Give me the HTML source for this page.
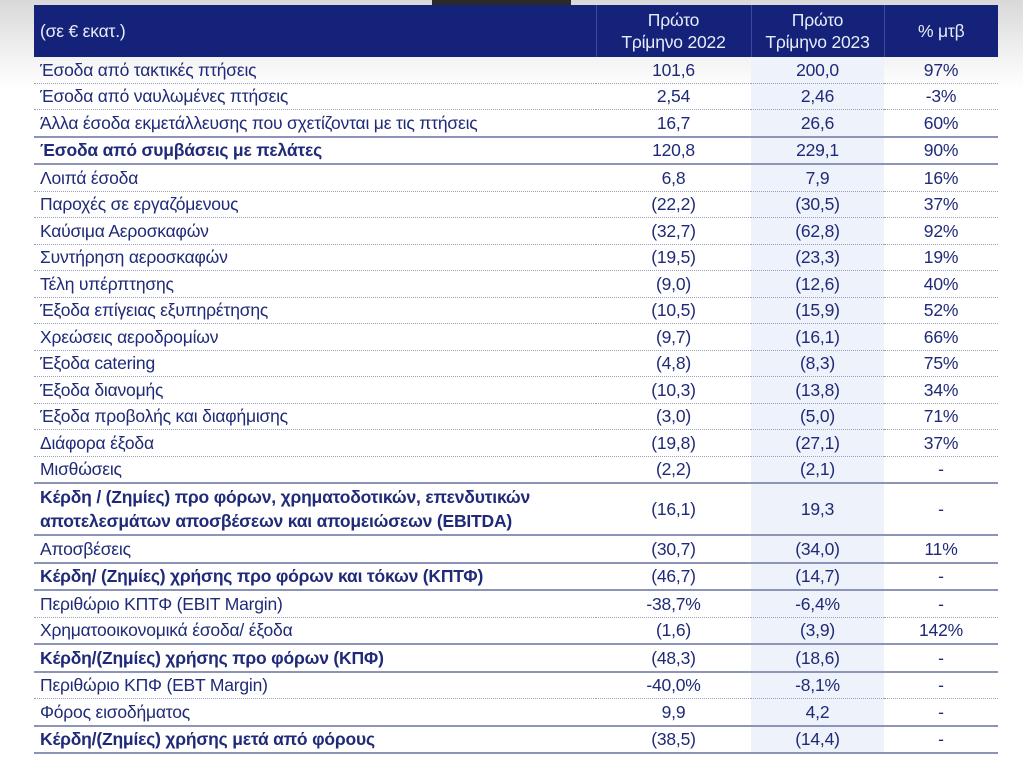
<!DOCTYPE html>
<html><head><meta charset="utf-8"><style>
body{margin:0;width:1023px;height:758px;overflow:hidden;background:linear-gradient(#d8d8d8 0px,#f4f4f4 60px,#fff 90px,#fff);font-family:"Liberation Sans","DejaVu Sans",sans-serif;position:relative}
.tab{position:absolute;left:432px;top:0;width:139px;height:6px;background:#2a2a2a}
table{position:absolute;left:34px;top:5px;width:964px;border-collapse:collapse;color:#1f2a78;font-size:17.5px;letter-spacing:-0.2px}
th{background:#14227a;color:#e8ecf8;font-weight:normal;height:50px;line-height:22px;border-left:1px solid #3b4a96;font-size:17.5px}
th:first-child{text-align:left;padding-left:6px;border-left:none}
td{height:25.5px;padding:0;border-bottom:1px dotted #9aa0b8;line-height:20px}
td:first-child{padding-left:6px;text-align:left}
td{text-align:center}
td:nth-child(3){background:#eef2fa}
tr.b td:first-child{font-weight:bold}
tr.b td{border-bottom:2px solid #8c94b8}
tr.s td{border-bottom:2px solid #8c94b8}
tr.e td{height:50px;line-height:24px}
</style></head><body>
<div class="tab"></div>
<table>
<colgroup><col style="width:562px"><col style="width:155px"><col style="width:133px"><col style="width:114px"></colgroup>
<tr><th>(σε € εκατ.)</th><th>Πρώτο<br>Τρίμηνο 2022</th><th>Πρώτο<br>Τρίμηνο 2023</th><th>% μτβ</th></tr>
<tr><td>Έσοδα από τακτικές πτήσεις</td><td>101,6</td><td>200,0</td><td>97%</td></tr>
<tr><td>Έσοδα από ναυλωμένες πτήσεις</td><td>2,54</td><td>2,46</td><td>-3%</td></tr>
<tr class="s"><td>Άλλα έσοδα εκμετάλλευσης που σχετίζονται με τις πτήσεις</td><td>16,7</td><td>26,6</td><td>60%</td></tr>
<tr class="b"><td>Έσοδα από συμβάσεις με πελάτες</td><td>120,8</td><td>229,1</td><td>90%</td></tr>
<tr><td>Λοιπά έσοδα</td><td>6,8</td><td>7,9</td><td>16%</td></tr>
<tr><td>Παροχές σε εργαζόμενους</td><td>(22,2)</td><td>(30,5)</td><td>37%</td></tr>
<tr><td>Καύσιμα Αεροσκαφών</td><td>(32,7)</td><td>(62,8)</td><td>92%</td></tr>
<tr><td>Συντήρηση αεροσκαφών</td><td>(19,5)</td><td>(23,3)</td><td>19%</td></tr>
<tr><td>Τέλη υπέρπτησης</td><td>(9,0)</td><td>(12,6)</td><td>40%</td></tr>
<tr><td>Έξοδα επίγειας εξυπηρέτησης</td><td>(10,5)</td><td>(15,9)</td><td>52%</td></tr>
<tr><td>Χρεώσεις αεροδρομίων</td><td>(9,7)</td><td>(16,1)</td><td>66%</td></tr>
<tr><td>Έξοδα catering</td><td>(4,8)</td><td>(8,3)</td><td>75%</td></tr>
<tr><td>Έξοδα διανομής</td><td>(10,3)</td><td>(13,8)</td><td>34%</td></tr>
<tr><td>Έξοδα προβολής και διαφήμισης</td><td>(3,0)</td><td>(5,0)</td><td>71%</td></tr>
<tr><td>Διάφορα έξοδα</td><td>(19,8)</td><td>(27,1)</td><td>37%</td></tr>
<tr class="s"><td>Μισθώσεις</td><td>(2,2)</td><td>(2,1)</td><td>-</td></tr>
<tr class="b e"><td>Κέρδη / (Ζημίες) προ φόρων, χρηματοδοτικών, επενδυτικών<br>αποτελεσμάτων αποσβέσεων και απομειώσεων (EBITDA)</td><td>(16,1)</td><td>19,3</td><td>-</td></tr>
<tr class="s"><td>Αποσβέσεις</td><td>(30,7)</td><td>(34,0)</td><td>11%</td></tr>
<tr class="b"><td>Κέρδη/ (Ζημίες) χρήσης προ φόρων και τόκων (ΚΠΤΦ)</td><td>(46,7)</td><td>(14,7)</td><td>-</td></tr>
<tr><td>Περιθώριο ΚΠΤΦ (EBIT Margin)</td><td>-38,7%</td><td>-6,4%</td><td>-</td></tr>
<tr class="s"><td>Χρηματοοικονομικά έσοδα/ έξοδα</td><td>(1,6)</td><td>(3,9)</td><td>142%</td></tr>
<tr class="b"><td>Κέρδη/(Ζημίες) χρήσης προ φόρων (ΚΠΦ)</td><td>(48,3)</td><td>(18,6)</td><td>-</td></tr>
<tr><td>Περιθώριο ΚΠΦ (EBT Margin)</td><td>-40,0%</td><td>-8,1%</td><td>-</td></tr>
<tr class="s"><td>Φόρος εισοδήματος</td><td>9,9</td><td>4,2</td><td>-</td></tr>
<tr class="b"><td>Κέρδη/(Ζημίες) χρήσης μετά από φόρους</td><td>(38,5)</td><td>(14,4)</td><td>-</td></tr>
</table>
</body></html>
